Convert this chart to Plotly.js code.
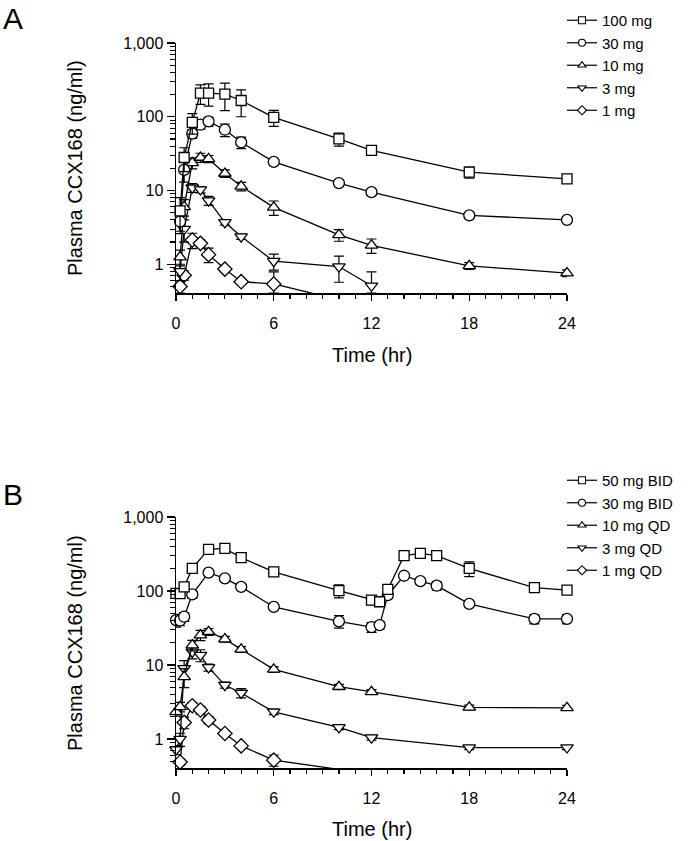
<!DOCTYPE html>
<html>
<head>
<meta charset="utf-8">
<script src="https://cdn.plot.ly/plotly-3.0.1.min.js"></script>
<style>html,body{margin:0;padding:0;background:#fff;}#chart{width:697px;height:841px;}</style>
</head>
<body>
<div id="chart"></div>
<script>
// ---------- Panel A: single dose (hr, ng/ml) ----------
var timeA = [0.25, 0.5, 1, 1.5, 2, 3, 4, 6, 10, 12, 18, 24];
var namesA = ["100 mg", "30 mg", "10 mg", "3 mg", "1 mg"];
var a100 = [5.3, 28, 84, 209, 209, 203, 166, 98, 50, 35, 17.7, 14.4];
var a100sd = [2.7, 10, 26, 62, 70, 82, 66, 24, 10, 3, 3, 1];
var a30 = [3.8, 19, 59, 78, 86.5, 66.7, 45, 24.4, 12.6, 9.5, 4.6, 4.0];
var a30sd = [1, 6, 8, 10, 12, 13, 8, 2, 1, 0.8, 0.4, 0.3];
var a10 = [1.25, 6, 23.7, 28, 26.8, 17, 11.4, 5.9, 2.5, 1.8, 0.95, 0.76];
var a10sd = [0.3, 1.5, 4, 4, 3, 2, 1.5, 1.3, 0.45, 0.4, 0.1, 0.08];
var a3 = [0.8, 3.0, 10.9, 10.3, 7.3, 3.7, 2.37, 1.1, 0.93, 0.51];
var a3sd = [0.2, 1, 1.5, 1, 1, 0.3, 0.2, 0.27, 0.36, 0.28];
var a1 = [0.5, 0.71, 2.13, 1.92, 1.35, 0.86, 0.58, 0.54, 0.33];
var a1sd = [0.1, 0.1, 0.5, 0.2, 0.3, 0.05, 0.04, 0.25, 0];

// ---------- Panel B: repeat dosing ----------
var timeBID = [0, 0.25, 0.5, 1, 2, 3, 4, 6, 10, 12, 12.5, 13, 14, 15, 16, 18, 22, 24];
var timeQD = [0, 0.25, 0.5, 1, 1.5, 2, 3, 4, 6, 10, 12, 18, 24];
var namesB = ["50 mg BID", "30 mg BID", "10 mg QD", "3 mg QD", "1 mg QD"];
var b50 = [93, 92, 114, 202, 366, 377, 282, 182, 101, 75.5, 71.7, 105, 300, 323, 300, 202, 111, 103];
var b50sd = [10, 10, 12, 25, 30, 30, 20, 15, 20, 10, 8, 10, 25, 25, 30, 45, 15, 10];
var b30 = [40.5, 40, 45, 90, 177, 148, 114, 61, 39, 32.6, 34.7, 88, 161, 136, 118, 67, 42, 42];
var b30sd = [8, 6, 6, 10, 12, 10, 8, 5, 7.5, 5, 4, 6, 10, 8, 15, 6, 6, 6];
var q10 = [2.34, 2.73, 6.95, 18.6, 25.4, 28.2, 22.4, 16.3, 8.75, 5.1, 4.36, 2.68, 2.65];
var q10sd = [0.3, 0.4, 2, 3, 4, 3, 2, 1.5, 0.8, 0.4, 0.3, 0.2, 0.2];
var q3 = [0.72, 1.0, 9.0, 15.1, 13.6, 9.3, 5.37, 4.2, 2.34, 1.44, 1.05, 0.77, 0.77];
var q3sd = [0.1, 0.2, 2.5, 3, 2.5, 1, 0.5, 0.6, 0.2, 0.1, 0.08, 0.05, 0.05];
var q1 = [null, 0.49, 1.68, 2.82, 2.47, 1.81, 1.19, 0.81, 0.52, 0.39];
var q1sd = [0, 0.05, 0.3, 0.3, 0.3, 0.2, 0.08, 0.05, 0.09, 0];

var yTickVals = [1, 10, 100, 1000];
var yTickText = ["1", "10", "100", "1,000"];
var xTickVals = [0, 6, 12, 18, 24];

// ---------- styling ----------
var FONT = "Liberation Sans, Arial, sans-serif";
var symbols = ["square", "circle", "triangle-up", "triangle-down", "diamond"];
var sizes = [10, 11, 11, 11, 11];
var yFloor = Math.pow(10, -0.39);

function minusErr(v, sd) {
  return v.map(function (val, i) {
    if (val == null) return 0;
    return Math.max(0, Math.min(sd[i], val - yFloor));
  });
}

function series(x, y, sd, k, xa, ya) {
  return {
    x: x, y: y, type: "scatter", mode: "lines+markers",
    xaxis: xa, yaxis: ya, showlegend: false, cliponaxis: false,
    line: {color: "black", width: 1.3},
    marker: {symbol: symbols[k], size: sizes[k], color: "white", line: {color: "black", width: 1.3}},
    error_y: {type: "data", symmetric: false, array: sd, arrayminus: minusErr(y, sd),
      color: "black", thickness: 1.2, width: 5}
  };
}
function legendEntry(name, k, leg, xa, ya) {
  return {
    x: [null], y: [null], type: "scatter", mode: "lines+markers", name: name,
    xaxis: xa, yaxis: ya, legend: leg, showlegend: true, legendgroup: leg + k,
    line: {color: "black", width: 1.2},
    marker: {symbol: symbols[k], size: 7, color: "white", line: {color: "black", width: 1.1}}
  };
}

var dataA = [[a1, a1sd, 4], [a3, a3sd, 3], [a10, a10sd, 2], [a30, a30sd, 1], [a100, a100sd, 0]];
var dataB = [[timeQD, q1, q1sd, 4], [timeQD, q3, q3sd, 3], [timeQD, q10, q10sd, 2], [timeBID, b30, b30sd, 1], [timeBID, b50, b50sd, 0]];

var traces = [];
dataA.forEach(function (d) { traces.push(series(timeA, d[0], d[1], d[2], "x", "y")); });
dataB.forEach(function (d) { traces.push(series(d[0], d[1], d[2], d[3], "x2", "y2")); });
namesA.forEach(function (n, k) { traces.push(legendEntry(n, k, "legend", "x", "y")); });
namesB.forEach(function (n, k) { traces.push(legendEntry(n, k, "legend2", "x2", "y2")); });

var minorY = [];
[0.1, 1, 10, 100].forEach(function (d) { for (var k = 2; k <= 9; k++) minorY.push(k * d); });

function xAxis(anchor) {
  return {
    domain: [176 / 697, 567 / 697], anchor: anchor, range: [0, 24],
    tickmode: "array", tickvals: xTickVals, ticks: "outside", ticklen: 6, tickwidth: 1.3, tickcolor: "black",
    minor: {tickmode: "linear", tick0: 0, dtick: 1, ticks: "outside", ticklen: 4, tickwidth: 1.2, tickcolor: "black", showgrid: false},
    showline: true, linecolor: "black", linewidth: 1.5, showgrid: false, zeroline: false,
    tickfont: {family: FONT, size: 16, color: "black"}, ticklabelstandoff: 9
  };
}
function yAxis(anchor, dom) {
  return {
    domain: dom, anchor: anchor, type: "log", range: [-0.39, 3],
    tickmode: "array", tickvals: yTickVals, ticktext: yTickText,
    ticks: "outside", ticklen: 8, tickwidth: 1.3, tickcolor: "black",
    minor: {tickmode: "array", tickvals: minorY, ticks: "outside", ticklen: 5, tickwidth: 1.1, tickcolor: "black", showgrid: false},
    showline: true, linecolor: "black", linewidth: 1.5, showgrid: false, zeroline: false,
    tickfont: {family: FONT, size: 16, color: "black"}
  };
}

function legendCfg(top) {
  return {
    x: 562 / 697, xanchor: "left", y: 1 - top / 841, yanchor: "top",
    font: {family: FONT, size: 15, color: "black"}, bgcolor: "rgba(0,0,0,0)",
    itemwidth: 30, tracegroupgap: 0, traceorder: "grouped"
  };
}

var titleFont = {family: FONT, size: 20, color: "black"};
var layout = {
  width: 697, height: 841, margin: {l: 0, r: 0, t: 0, b: 0},
  paper_bgcolor: "white", plot_bgcolor: "white", showlegend: true,
  xaxis: xAxis("y"), yaxis: yAxis("x", [1 - 293 / 841, 1 - 43 / 841]),
  xaxis2: xAxis("y2"), yaxis2: yAxis("x2", [1 - 768 / 841, 1 - 517 / 841]),
  legend: legendCfg(4), legend2: legendCfg(464),
  annotations: [
    {text: "A", xref: "paper", yref: "paper", x: 13 / 697, y: 1 - 19 / 841, showarrow: false, xanchor: "center", yanchor: "middle", font: {family: FONT, size: 30, color: "black"}},
    {text: "B", xref: "paper", yref: "paper", x: 13 / 697, y: 1 - 494 / 841, showarrow: false, xanchor: "center", yanchor: "middle", font: {family: FONT, size: 30, color: "black"}},
    {text: "Plasma CCX168 (ng/ml)", xref: "paper", yref: "paper", x: 75 / 697, y: 1 - 168 / 841, textangle: -90, showarrow: false, xanchor: "center", yanchor: "middle", font: titleFont},
    {text: "Plasma CCX168 (ng/ml)", xref: "paper", yref: "paper", x: 75 / 697, y: 1 - 643 / 841, textangle: -90, showarrow: false, xanchor: "center", yanchor: "middle", font: titleFont},
    {text: "Time (hr)", xref: "paper", yref: "paper", x: 371.5 / 697, y: 1 - 355 / 841, showarrow: false, xanchor: "center", yanchor: "middle", font: titleFont},
    {text: "Time (hr)", xref: "paper", yref: "paper", x: 371.5 / 697, y: 1 - 829 / 841, showarrow: false, xanchor: "center", yanchor: "middle", font: titleFont}
  ]
};

Plotly.newPlot("chart", traces, layout, {displayModeBar: false, staticPlot: true});
</script>
</body>
</html>
